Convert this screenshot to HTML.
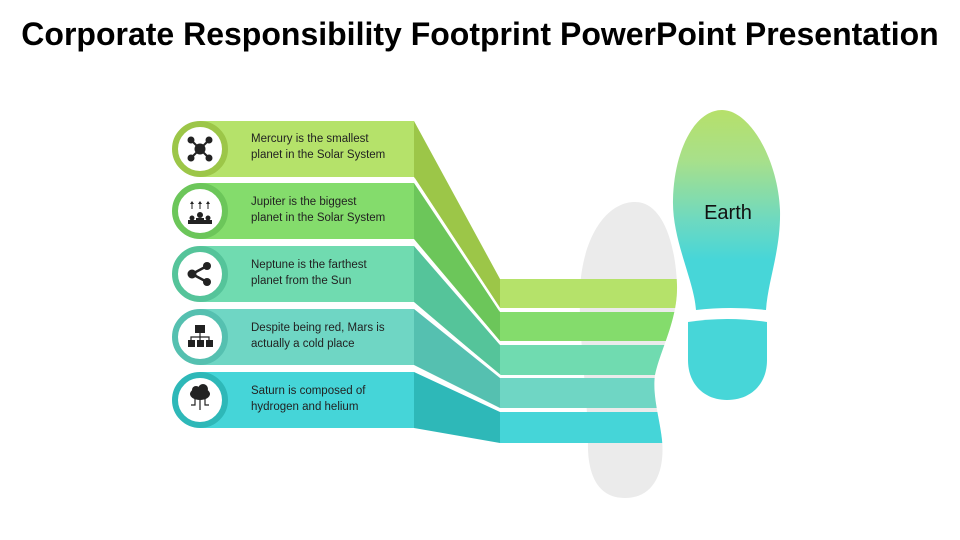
<!DOCTYPE html>
<html><head><meta charset="utf-8"><style>
html,body{margin:0;padding:0;background:#fff;}
body{width:960px;height:540px;overflow:hidden;position:relative;}
.t{position:absolute;left:0;top:16px;width:960px;text-align:center;font:bold 32px "Liberation Sans",sans-serif;color:#000;}
</style></head><body>
<div class="t">Corporate Responsibility Footprint PowerPoint Presentation</div>
<svg width="960" height="540" style="position:absolute;left:0;top:0">
<defs>
<linearGradient id="g" x1="0" y1="0" x2="0" y2="1">
<stop offset="0" stop-color="#b6e06a"/><stop offset="0.25" stop-color="#a8e08a"/><stop offset="0.55" stop-color="#6ed9c0"/><stop offset="0.75" stop-color="#47d6d8"/><stop offset="1" stop-color="#47d6d8"/>
</linearGradient>
<clipPath id="c">
<rect x="0" y="0" width="600" height="540"/>
<path d="M635,202 C665,202 676,250 677,285 C678,320 660,350 655,375 C652,395 660,420 662,440 C665,470 655,498 625,498 C595,498 587,470 588,440 C588,400 578,330 580,290 C582,240 605,202 635,202 Z"/>
</clipPath>
</defs>
<path fill="#ebebeb" d="M635,202 C665,202 676,250 677,285 C678,320 660,350 655,375 C652,395 660,420 662,440 C665,470 655,498 625,498 C595,498 587,470 588,440 C588,400 578,330 580,290 C582,240 605,202 635,202 Z"/>
<path fill="url(#g)" d="M722,110 C750,110 778,160 780,210 C781,250 768,280 766,310 Q731,306 696,310 C694,280 672,240 673,200 C674,150 695,110 722,110 Z"/>
<path fill="#47d6d8" d="M688,322 Q727,316 767,322 L767,360 C767,385 750,400 727,400 C705,400 688,385 688,360 Z"/>
<text x="728" y="219" text-anchor="middle" font-family="Liberation Sans,sans-serif" font-size="20" fill="#111">Earth</text>
<g clip-path="url(#c)">
<rect x="500" y="279" width="200" height="29" fill="#b5e26a"/>
<rect x="500" y="312" width="200" height="29" fill="#84dc6c"/>
<rect x="500" y="345" width="200" height="30" fill="#70dbb0"/>
<rect x="500" y="378" width="200" height="30" fill="#6fd6c4"/>
<rect x="500" y="412" width="200" height="31" fill="#45d5d8"/>
</g>
<polygon points="414,121 500,279 500,308 414,177" fill="#9cc648"/>
<polygon points="414,183 500,312 500,341 414,239" fill="#6cc65a"/>
<polygon points="414,246 500,345 500,375 414,302" fill="#55c49a"/>
<polygon points="414,309 500,378 500,408 414,365" fill="#55c0b0"/>
<polygon points="414,372 500,412 500,443 414,428" fill="#2eb8b8"/>
<g stroke="#fff" stroke-width="2.5">
<line x1="414" y1="179" x2="500" y2="310"/>
<line x1="414" y1="242" x2="500" y2="343"/>
<line x1="414" y1="305" x2="500" y2="376"/>
<line x1="414" y1="368" x2="500" y2="410"/>
</g>
<rect x="200" y="121" width="214" height="56" fill="#b5e26a"/>
<rect x="200" y="183" width="214" height="56" fill="#84dc6c"/>
<rect x="200" y="246" width="214" height="56" fill="#70dbb0"/>
<rect x="200" y="309" width="214" height="56" fill="#6fd6c4"/>
<rect x="200" y="372" width="214" height="56" fill="#45d5d8"/>
<g fill="#fff" stroke-width="6">
<circle cx="200" cy="149" r="25" stroke="#9cc648"/>
<circle cx="200" cy="211" r="25" stroke="#6cc65a"/>
<circle cx="200" cy="274" r="25" stroke="#55c49a"/>
<circle cx="200" cy="337" r="25" stroke="#55c0b0"/>
<circle cx="200" cy="400" r="25" stroke="#2eb8b8"/>
</g>
<g fill="#222" stroke="#222">
<g stroke-width="2"><line x1="191" y1="140" x2="209" y2="158"/><line x1="209" y1="140" x2="191" y2="158"/></g>
<circle cx="191" cy="140" r="3"/><circle cx="209" cy="140" r="3"/><circle cx="191" cy="158" r="3"/><circle cx="209" cy="158" r="3"/>
<circle cx="200" cy="149" r="5"/>
<g stroke="none"><circle cx="192" cy="218" r="2.5"/><circle cx="200" cy="215" r="3"/><circle cx="208" cy="218" r="2.5"/>
<rect x="188" y="220" width="8" height="4"/><rect x="196" y="218" width="8" height="6"/><rect x="204" y="220" width="8" height="4"/>
<path d="M192,201 l-2,3 h4z M200,201 l-2,3 h4z M208,201 l-2,3 h4z"/></g>
<g stroke-width="1"><line x1="192" y1="204" x2="192" y2="209"/><line x1="200" y1="204" x2="200" y2="209"/><line x1="208" y1="204" x2="208" y2="209"/></g>
<g stroke-width="2.5"><line x1="192" y1="274" x2="207" y2="266"/><line x1="192" y1="274" x2="207" y2="282"/></g>
<circle cx="192" cy="274" r="4.5" stroke="none"/><circle cx="207" cy="266" r="4" stroke="none"/><circle cx="207" cy="282" r="4" stroke="none"/>
<g stroke="none"><rect x="195" y="325" width="10" height="8"/><rect x="188" y="340" width="7" height="7"/><rect x="197" y="340" width="7" height="7"/><rect x="206" y="340" width="7" height="7"/></g>
<g stroke-width="1.2" fill="none"><line x1="200" y1="333" x2="200" y2="340"/><polyline points="191,340 191,337 209,337 209,340"/></g>
<g stroke="none"><ellipse cx="200" cy="394" rx="10" ry="6"/><circle cx="196" cy="390" r="4"/><circle cx="203" cy="389" r="5"/></g>
<g stroke-width="1.2" fill="none"><line x1="200" y1="398" x2="200" y2="410"/><polyline points="195,398 195,405 191,405"/><polyline points="205,398 205,405 209,405"/></g>
</g>
<g font-family="Liberation Sans,sans-serif" font-size="11.5" fill="#222">
<text x="251" y="142">Mercury is the smallest</text><text x="251" y="158">planet in the Solar System</text>
<text x="251" y="205">Jupiter is the biggest</text><text x="251" y="221">planet in the Solar System</text>
<text x="251" y="268">Neptune is the farthest</text><text x="251" y="284">planet from the Sun</text>
<text x="251" y="331">Despite being red, Mars is</text><text x="251" y="347">actually a cold place</text>
<text x="251" y="394">Saturn is composed of</text><text x="251" y="410">hydrogen and helium</text>
</g>
</svg>
</body></html>
